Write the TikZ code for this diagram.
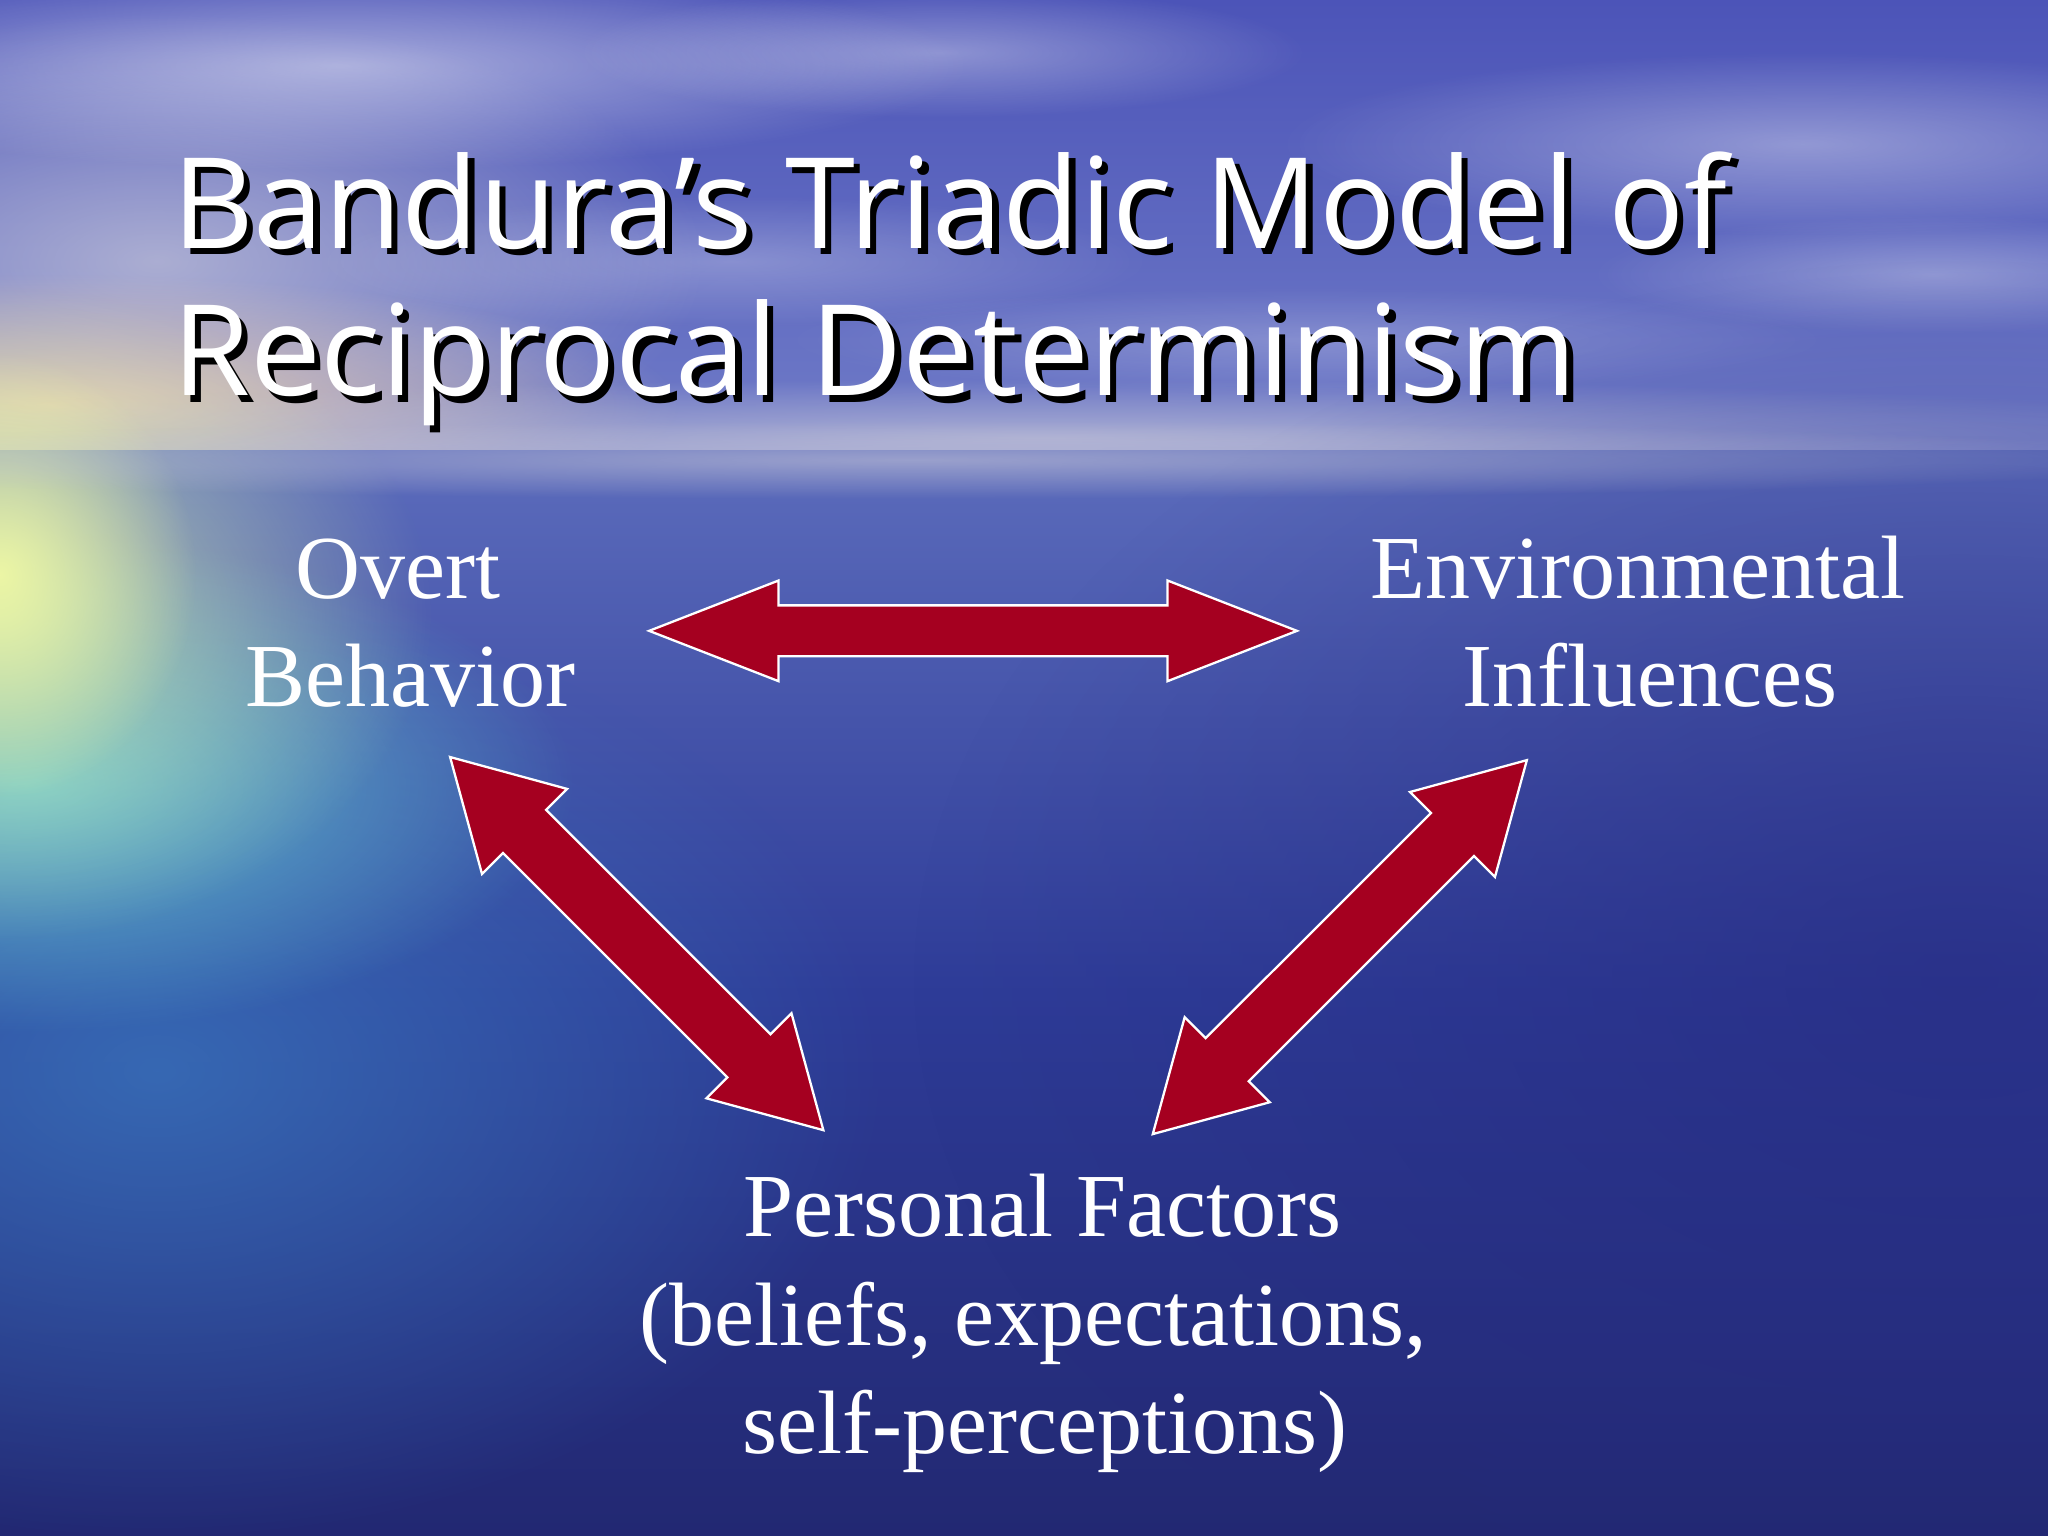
\documentclass[tikz,border=0pt]{standalone}
\usepackage{fontspec}
\setmainfont{Liberation Serif}
\newfontfamily\titlefont{Open Sans}
\usetikzlibrary{calc,fadings}
\definecolor{arrowred}{RGB}{165,0,32}
\definecolor{skytop}{RGB}{76,84,184}
\definecolor{skylow}{RGB}{112,124,200}
\definecolor{seatop}{RGB}{92,108,188}
\definecolor{seamid}{RGB}{46,60,152}
\definecolor{seabot}{RGB}{34,40,114}
\definecolor{peach}{RGB}{232,205,178}
\definecolor{haze}{RGB}{196,196,216}
\definecolor{sunyellow}{RGB}{236,246,165}
\definecolor{seacyan}{RGB}{105,205,212}
\definecolor{sealight}{RGB}{58,120,190}
\definecolor{indigo}{RGB}{38,42,128}
\tikzfading[name=softglow, inner color=transparent!0, outer color=transparent!100]
\tikzset{
  lab/.style={text=white, font=\fontsize{19.6}{23}\selectfont, inner sep=0pt, anchor=base},
  titletext/.style={font=\titlefont\fontsize{27.5}{32}\selectfont, inner sep=0pt, anchor=base west},
  blockarrow/.style={fill=arrowred, draw=white, line width=0.5pt, line join=miter},
  glow/.style={path fading=softglow},
}
\newcommand\dblarrow[5]{%
 \path[blockarrow] (#1) -- ($(#1)!#3!(#2)!#4!90:(#2)$) -- ($(#1)!#3!(#2)!#5!90:(#2)$)
   -- ($(#2)!#3!(#1)!#5!-90:(#1)$) -- ($(#2)!#3!(#1)!#4!-90:(#1)$) -- (#2)
   -- ($(#2)!#3!(#1)!#4!90:(#1)$) -- ($(#2)!#3!(#1)!#5!90:(#1)$)
   -- ($(#1)!#3!(#2)!#5!-90:(#2)$) -- ($(#1)!#3!(#2)!#4!-90:(#2)$) -- cycle;}
\begin{document}
\begin{tikzpicture}[x=0.01cm,y=-0.01cm]
\useasboundingbox (0,0) rectangle (1568,1176);
\begin{scope}
\clip (0,0) rectangle (1568,1176);
% sky
\shade[top color=skytop, bottom color=skylow] (0,0) rectangle (1568,350);
\fill[haze, glow, opacity=0.75] (120,200) ellipse [x radius=420, y radius=190];
\fill[white, glow, opacity=0.5] (260,50) ellipse [x radius=480, y radius=80];
\fill[white, glow, opacity=0.35] (720,40) ellipse [x radius=280, y radius=50];
\fill[white, glow, opacity=0.35] (1380,110) ellipse [x radius=400, y radius=70];
\fill[white, glow, opacity=0.3] (1480,210) ellipse [x radius=260, y radius=45];
\fill[white, glow, opacity=0.25] (560,200) ellipse [x radius=320, y radius=50];
\fill[white, glow, opacity=0.2] (1000,260) ellipse [x radius=400, y radius=40];
\fill[peach, glow, opacity=0.95] (40,310) ellipse [x radius=480, y radius=100];
\fill[haze, glow, opacity=0.7] (800,335) ellipse [x radius=1000, y radius=45];
% sea
\shade[top color=seatop, bottom color=seabot, middle color=seamid] (0,345) rectangle (1568,1176);
\fill[indigo, glow, opacity=0.6] (1500,750) ellipse [x radius=800, y radius=550];
\fill[sealight, glow, opacity=0.75] (120,820) ellipse [x radius=560, y radius=360];
\fill[seacyan, glow, opacity=0.9] (20,600) ellipse [x radius=420, y radius=190];
\fill[sunyellow!80!seacyan, glow, opacity=0.8] (0,470) ellipse [x radius=330, y radius=250];
\fill[sunyellow, glow] (0,440) ellipse [x radius=150, y radius=170];
\fill[haze, glow, opacity=0.6] (700,352) ellipse [x radius=1000, y radius=30];
\end{scope}
% title
\node[titletext, text=black] (t1s) at (136,195) {Bandura’s Triadic Model of};
\node[titletext, text=white] (t1) at (131,190) {Bandura’s Triadic Model of};
\node[titletext, text=black] (t2s) at (136,308) {Reciprocal Determinism};
\node[titletext, text=white] (t2) at (131,303) {Reciprocal Determinism};
% labels
\node[lab] (ov) at (305,458) {Overt};
\node[lab] (be) at (314,541) {Behavior};
\node[lab] (en) at (1254,458) {Environmental};
\node[lab] (in) at (1263,541) {Influences};
\node[lab] (pf) at (798,947) {Personal Factors};
\node[lab] (bel) at (791,1030) {(beliefs, expectations,};
\node[lab] (sp) at (800,1113) {self-perceptions)};
% arrows
\coordinate (hA) at (497,483); \coordinate (hB) at (993,483);
\dblarrow{hA}{hB}{0.99cm}{0.385cm}{0.195cm}
\coordinate (lA) at (344.6,579.6); \coordinate (lB) at (630.4,865.3);
\dblarrow{lA}{lB}{0.805cm}{0.46cm}{0.233cm}
\coordinate (rA) at (1169,582); \coordinate (rB) at (882.6,868.3);
\dblarrow{rA}{rB}{0.805cm}{0.46cm}{0.233cm}
\end{tikzpicture}
\end{document}
